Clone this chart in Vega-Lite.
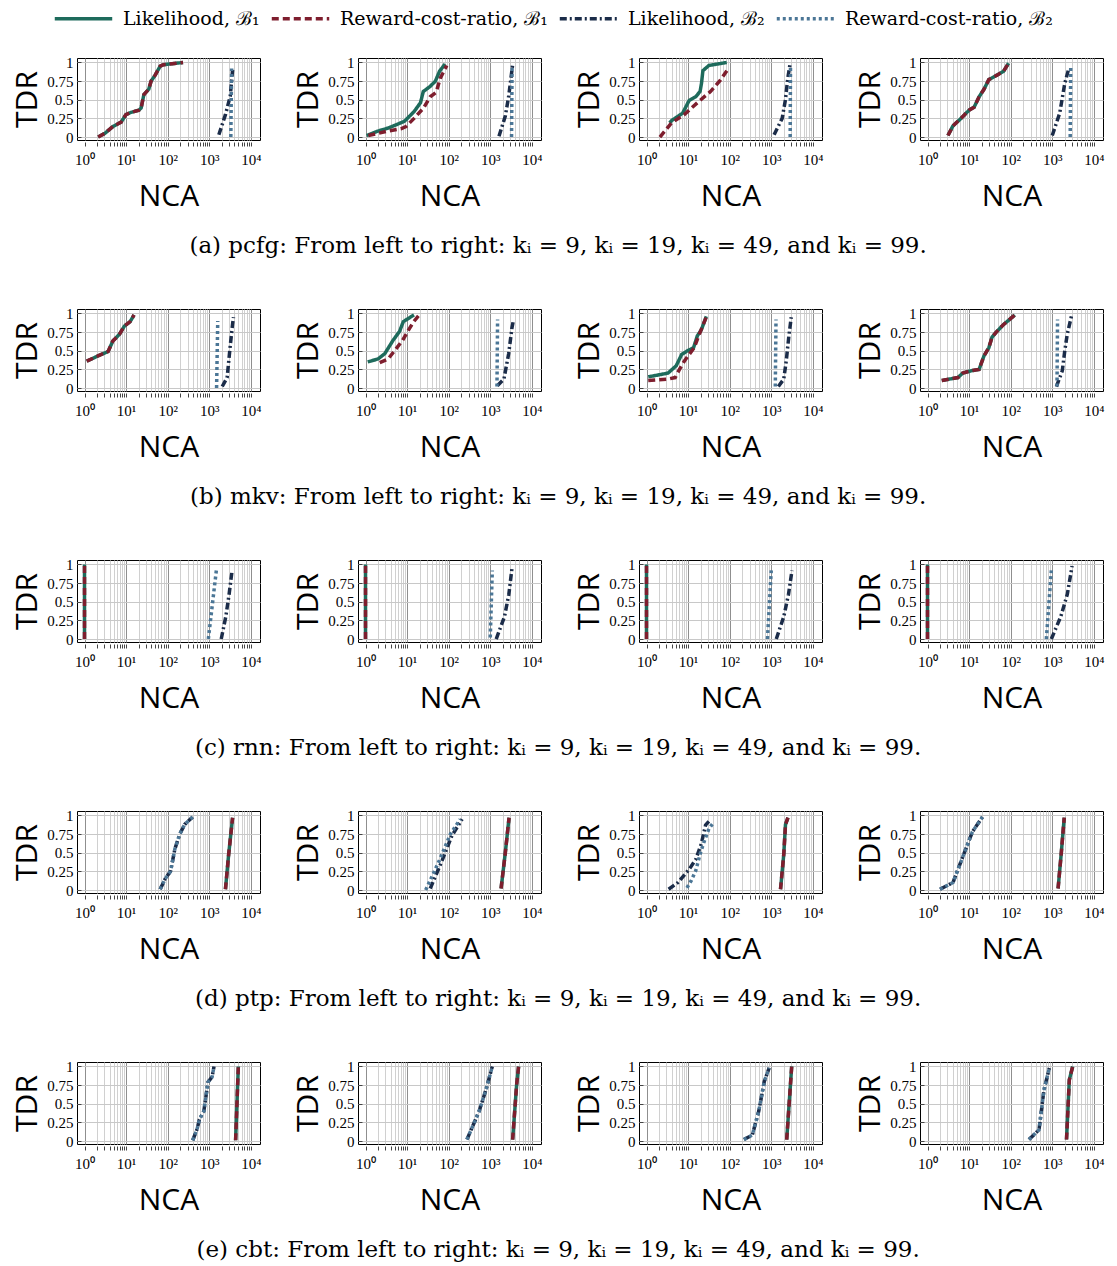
{
  "$schema": "https://vega.github.io/schema/vega-lite/v6.json",
  "padding": {"left": 12, "top": -12, "right": 4, "bottom": 2},
  "datasets": {
    "d": [
      {"d":"pcfg","k":9,"m":"L1","x":2.13,"y":0},{"d":"pcfg","k":9,"m":"L1","x":3.1,"y":0.05},{"d":"pcfg","k":9,"m":"L1","x":4.8,"y":0.14},{"d":"pcfg","k":9,"m":"L1","x":7.6,"y":0.2},{"d":"pcfg","k":9,"m":"L1","x":9.9,"y":0.3},{"d":"pcfg","k":9,"m":"L1","x":13,"y":0.33},{"d":"pcfg","k":9,"m":"L1","x":20.4,"y":0.36},{"d":"pcfg","k":9,"m":"L1","x":23,"y":0.39},{"d":"pcfg","k":9,"m":"L1","x":26.8,"y":0.57},{"d":"pcfg","k":9,"m":"L1","x":35,"y":0.64},{"d":"pcfg","k":9,"m":"L1","x":40,"y":0.75},{"d":"pcfg","k":9,"m":"L1","x":50,"y":0.83},{"d":"pcfg","k":9,"m":"L1","x":66,"y":0.95},{"d":"pcfg","k":9,"m":"L1","x":79,"y":0.97},{"d":"pcfg","k":9,"m":"L1","x":234,"y":1.0},
      {"d":"pcfg","k":9,"m":"R1","x":2.13,"y":0},{"d":"pcfg","k":9,"m":"R1","x":3.1,"y":0.05},{"d":"pcfg","k":9,"m":"R1","x":4.8,"y":0.14},{"d":"pcfg","k":9,"m":"R1","x":7.6,"y":0.2},{"d":"pcfg","k":9,"m":"R1","x":9.9,"y":0.3},{"d":"pcfg","k":9,"m":"R1","x":13,"y":0.33},{"d":"pcfg","k":9,"m":"R1","x":20.4,"y":0.36},{"d":"pcfg","k":9,"m":"R1","x":23,"y":0.39},{"d":"pcfg","k":9,"m":"R1","x":26.8,"y":0.57},{"d":"pcfg","k":9,"m":"R1","x":35,"y":0.64},{"d":"pcfg","k":9,"m":"R1","x":40,"y":0.75},{"d":"pcfg","k":9,"m":"R1","x":50,"y":0.83},{"d":"pcfg","k":9,"m":"R1","x":66,"y":0.95},{"d":"pcfg","k":9,"m":"R1","x":79,"y":0.97},{"d":"pcfg","k":9,"m":"R1","x":234,"y":1.0},
      {"d":"pcfg","k":9,"m":"L2","x":1700,"y":0.03},{"d":"pcfg","k":9,"m":"L2","x":2450,"y":0.3},{"d":"pcfg","k":9,"m":"L2","x":3200,"y":0.55},{"d":"pcfg","k":9,"m":"L2","x":3640,"y":0.9},
      {"d":"pcfg","k":9,"m":"R2","x":3300,"y":0},{"d":"pcfg","k":9,"m":"R2","x":3450,"y":0.92},

      {"d":"pcfg","k":19,"m":"L1","x":1.07,"y":0.02},{"d":"pcfg","k":19,"m":"L1","x":2.0,"y":0.08},{"d":"pcfg","k":19,"m":"L1","x":3.5,"y":0.12},{"d":"pcfg","k":19,"m":"L1","x":8.6,"y":0.21},{"d":"pcfg","k":19,"m":"L1","x":14.7,"y":0.34},{"d":"pcfg","k":19,"m":"L1","x":21,"y":0.46},{"d":"pcfg","k":19,"m":"L1","x":24.5,"y":0.61},{"d":"pcfg","k":19,"m":"L1","x":36,"y":0.68},{"d":"pcfg","k":19,"m":"L1","x":48,"y":0.75},{"d":"pcfg","k":19,"m":"L1","x":60,"y":0.88},{"d":"pcfg","k":19,"m":"L1","x":82,"y":0.98},
      {"d":"pcfg","k":19,"m":"R1","x":1.17,"y":0.02},{"d":"pcfg","k":19,"m":"R1","x":3.5,"y":0.08},{"d":"pcfg","k":19,"m":"R1","x":7.1,"y":0.11},{"d":"pcfg","k":19,"m":"R1","x":9.4,"y":0.14},{"d":"pcfg","k":19,"m":"R1","x":14.7,"y":0.25},{"d":"pcfg","k":19,"m":"R1","x":25,"y":0.39},{"d":"pcfg","k":19,"m":"R1","x":36,"y":0.54},{"d":"pcfg","k":19,"m":"R1","x":50,"y":0.6},{"d":"pcfg","k":19,"m":"R1","x":63,"y":0.79},{"d":"pcfg","k":19,"m":"R1","x":90,"y":0.96},
      {"d":"pcfg","k":19,"m":"L2","x":1620,"y":0.01},{"d":"pcfg","k":19,"m":"L2","x":2300,"y":0.28},{"d":"pcfg","k":19,"m":"L2","x":2780,"y":0.55},{"d":"pcfg","k":19,"m":"L2","x":3450,"y":0.97},
      {"d":"pcfg","k":19,"m":"R2","x":3250,"y":0},{"d":"pcfg","k":19,"m":"R2","x":3350,"y":0.95},

      {"d":"pcfg","k":49,"m":"L1","x":3.6,"y":0.19},{"d":"pcfg","k":49,"m":"L1","x":4.0,"y":0.22},{"d":"pcfg","k":49,"m":"L1","x":7.4,"y":0.32},{"d":"pcfg","k":49,"m":"L1","x":10.6,"y":0.49},{"d":"pcfg","k":49,"m":"L1","x":15.2,"y":0.54},{"d":"pcfg","k":49,"m":"L1","x":19.4,"y":0.61},{"d":"pcfg","k":49,"m":"L1","x":21,"y":0.72},{"d":"pcfg","k":49,"m":"L1","x":22.7,"y":0.89},{"d":"pcfg","k":49,"m":"L1","x":31.6,"y":0.96},{"d":"pcfg","k":49,"m":"L1","x":85,"y":1.0},
      {"d":"pcfg","k":49,"m":"R1","x":2.1,"y":0},{"d":"pcfg","k":49,"m":"R1","x":4.0,"y":0.19},{"d":"pcfg","k":49,"m":"R1","x":8.1,"y":0.3},{"d":"pcfg","k":49,"m":"R1","x":16.7,"y":0.46},{"d":"pcfg","k":49,"m":"R1","x":34.5,"y":0.61},{"d":"pcfg","k":49,"m":"R1","x":59,"y":0.76},{"d":"pcfg","k":49,"m":"R1","x":93,"y":0.92},
      {"d":"pcfg","k":49,"m":"L2","x":1170,"y":0.03},{"d":"pcfg","k":49,"m":"L2","x":1830,"y":0.25},{"d":"pcfg","k":49,"m":"L2","x":2190,"y":0.5},{"d":"pcfg","k":49,"m":"L2","x":2500,"y":0.79},{"d":"pcfg","k":49,"m":"L2","x":2870,"y":1.0},
      {"d":"pcfg","k":49,"m":"R2","x":2850,"y":0},{"d":"pcfg","k":49,"m":"R2","x":2900,"y":0.95},

      {"d":"pcfg","k":99,"m":"L1","x":3.1,"y":0.02},{"d":"pcfg","k":99,"m":"L1","x":4.1,"y":0.15},{"d":"pcfg","k":99,"m":"L1","x":6.4,"y":0.25},{"d":"pcfg","k":99,"m":"L1","x":10,"y":0.36},{"d":"pcfg","k":99,"m":"L1","x":13.2,"y":0.4},{"d":"pcfg","k":99,"m":"L1","x":17.4,"y":0.54},{"d":"pcfg","k":99,"m":"L1","x":22.8,"y":0.64},{"d":"pcfg","k":99,"m":"L1","x":29.8,"y":0.77},{"d":"pcfg","k":99,"m":"L1","x":47,"y":0.83},{"d":"pcfg","k":99,"m":"L1","x":67,"y":0.88},{"d":"pcfg","k":99,"m":"L1","x":89,"y":0.99},
      {"d":"pcfg","k":99,"m":"R1","x":3.1,"y":0.02},{"d":"pcfg","k":99,"m":"R1","x":4.1,"y":0.15},{"d":"pcfg","k":99,"m":"R1","x":6.4,"y":0.25},{"d":"pcfg","k":99,"m":"R1","x":10,"y":0.36},{"d":"pcfg","k":99,"m":"R1","x":13.2,"y":0.4},{"d":"pcfg","k":99,"m":"R1","x":17.4,"y":0.54},{"d":"pcfg","k":99,"m":"R1","x":22.8,"y":0.64},{"d":"pcfg","k":99,"m":"R1","x":29.8,"y":0.77},{"d":"pcfg","k":99,"m":"R1","x":47,"y":0.83},{"d":"pcfg","k":99,"m":"R1","x":67,"y":0.88},{"d":"pcfg","k":99,"m":"R1","x":89,"y":0.99},
      {"d":"pcfg","k":99,"m":"L2","x":1000,"y":0.02},{"d":"pcfg","k":99,"m":"L2","x":1510,"y":0.32},{"d":"pcfg","k":99,"m":"L2","x":2000,"y":0.72},{"d":"pcfg","k":99,"m":"L2","x":2500,"y":0.92},
      {"d":"pcfg","k":99,"m":"R2","x":2700,"y":0},{"d":"pcfg","k":99,"m":"R2","x":2780,"y":0.93},

      {"d":"mkv","k":9,"m":"L1","x":1.13,"y":0.36},{"d":"mkv","k":9,"m":"L1","x":2.1,"y":0.43},{"d":"mkv","k":9,"m":"L1","x":3.7,"y":0.49},{"d":"mkv","k":9,"m":"L1","x":4.8,"y":0.63},{"d":"mkv","k":9,"m":"L1","x":6.9,"y":0.72},{"d":"mkv","k":9,"m":"L1","x":9.1,"y":0.83},{"d":"mkv","k":9,"m":"L1","x":12.5,"y":0.89},{"d":"mkv","k":9,"m":"L1","x":15.5,"y":0.98},
      {"d":"mkv","k":9,"m":"R1","x":1.13,"y":0.36},{"d":"mkv","k":9,"m":"R1","x":2.1,"y":0.43},{"d":"mkv","k":9,"m":"R1","x":3.7,"y":0.49},{"d":"mkv","k":9,"m":"R1","x":4.8,"y":0.63},{"d":"mkv","k":9,"m":"R1","x":6.9,"y":0.72},{"d":"mkv","k":9,"m":"R1","x":9.1,"y":0.83},{"d":"mkv","k":9,"m":"R1","x":12.5,"y":0.89},{"d":"mkv","k":9,"m":"R1","x":15.5,"y":0.98},
      {"d":"mkv","k":9,"m":"L2","x":2050,"y":0.02},{"d":"mkv","k":9,"m":"L2","x":2690,"y":0.14},{"d":"mkv","k":9,"m":"L2","x":3200,"y":0.57},{"d":"mkv","k":9,"m":"L2","x":3640,"y":0.86},{"d":"mkv","k":9,"m":"L2","x":3830,"y":0.95},
      {"d":"mkv","k":9,"m":"R2","x":1500,"y":0},{"d":"mkv","k":9,"m":"R2","x":1600,"y":0.9},

      {"d":"mkv","k":19,"m":"L1","x":1.13,"y":0.35},{"d":"mkv","k":19,"m":"L1","x":2.0,"y":0.39},{"d":"mkv","k":19,"m":"L1","x":2.9,"y":0.46},{"d":"mkv","k":19,"m":"L1","x":4.6,"y":0.64},{"d":"mkv","k":19,"m":"L1","x":6.6,"y":0.76},{"d":"mkv","k":19,"m":"L1","x":8.1,"y":0.89},{"d":"mkv","k":19,"m":"L1","x":11.2,"y":0.94},{"d":"mkv","k":19,"m":"L1","x":14.7,"y":0.98},
      {"d":"mkv","k":19,"m":"R1","x":2.2,"y":0.34},{"d":"mkv","k":19,"m":"R1","x":3.5,"y":0.39},{"d":"mkv","k":19,"m":"R1","x":5.0,"y":0.5},{"d":"mkv","k":19,"m":"R1","x":7.8,"y":0.64},{"d":"mkv","k":19,"m":"R1","x":10.6,"y":0.77},{"d":"mkv","k":19,"m":"R1","x":14,"y":0.88},{"d":"mkv","k":19,"m":"R1","x":19.4,"y":0.98},
      {"d":"mkv","k":19,"m":"L2","x":1480,"y":0.03},{"d":"mkv","k":19,"m":"L2","x":2130,"y":0.12},{"d":"mkv","k":19,"m":"L2","x":2770,"y":0.46},{"d":"mkv","k":19,"m":"L2","x":3330,"y":0.81},{"d":"mkv","k":19,"m":"L2","x":3640,"y":0.92},
      {"d":"mkv","k":19,"m":"R2","x":1450,"y":0.02},{"d":"mkv","k":19,"m":"R2","x":1500,"y":0.92},

      {"d":"mkv","k":49,"m":"L1","x":1.1,"y":0.15},{"d":"mkv","k":49,"m":"L1","x":3.3,"y":0.2},{"d":"mkv","k":49,"m":"L1","x":5.2,"y":0.3},{"d":"mkv","k":49,"m":"L1","x":7.0,"y":0.45},{"d":"mkv","k":49,"m":"L1","x":9.7,"y":0.5},{"d":"mkv","k":49,"m":"L1","x":13.5,"y":0.54},{"d":"mkv","k":49,"m":"L1","x":16.7,"y":0.7},{"d":"mkv","k":49,"m":"L1","x":20.8,"y":0.78},{"d":"mkv","k":49,"m":"L1","x":27.4,"y":0.96},
      {"d":"mkv","k":49,"m":"R1","x":1.1,"y":0.1},{"d":"mkv","k":49,"m":"R1","x":3.3,"y":0.12},{"d":"mkv","k":49,"m":"R1","x":4.9,"y":0.14},{"d":"mkv","k":49,"m":"R1","x":6.2,"y":0.25},{"d":"mkv","k":49,"m":"R1","x":8.1,"y":0.36},{"d":"mkv","k":49,"m":"R1","x":10.6,"y":0.45},{"d":"mkv","k":49,"m":"R1","x":14,"y":0.54},{"d":"mkv","k":49,"m":"R1","x":17.4,"y":0.68},{"d":"mkv","k":49,"m":"R1","x":21.9,"y":0.82},{"d":"mkv","k":49,"m":"R1","x":28.8,"y":0.98},
      {"d":"mkv","k":49,"m":"L2","x":1480,"y":0.02},{"d":"mkv","k":49,"m":"L2","x":2000,"y":0.12},{"d":"mkv","k":49,"m":"L2","x":2300,"y":0.37},{"d":"mkv","k":49,"m":"L2","x":2630,"y":0.68},{"d":"mkv","k":49,"m":"L2","x":3020,"y":0.95},
      {"d":"mkv","k":49,"m":"R2","x":1250,"y":0.02},{"d":"mkv","k":49,"m":"R2","x":1300,"y":0.92},

      {"d":"mkv","k":99,"m":"L1","x":2.2,"y":0.1},{"d":"mkv","k":99,"m":"L1","x":3.4,"y":0.12},{"d":"mkv","k":99,"m":"L1","x":5.4,"y":0.14},{"d":"mkv","k":99,"m":"L1","x":7.0,"y":0.2},{"d":"mkv","k":99,"m":"L1","x":11,"y":0.23},{"d":"mkv","k":99,"m":"L1","x":17.4,"y":0.25},{"d":"mkv","k":99,"m":"L1","x":22.8,"y":0.43},{"d":"mkv","k":99,"m":"L1","x":29.8,"y":0.54},{"d":"mkv","k":99,"m":"L1","x":35.5,"y":0.68},{"d":"mkv","k":99,"m":"L1","x":45,"y":0.75},{"d":"mkv","k":99,"m":"L1","x":67,"y":0.85},{"d":"mkv","k":99,"m":"L1","x":126,"y":0.98},
      {"d":"mkv","k":99,"m":"R1","x":2.2,"y":0.1},{"d":"mkv","k":99,"m":"R1","x":3.4,"y":0.12},{"d":"mkv","k":99,"m":"R1","x":5.4,"y":0.14},{"d":"mkv","k":99,"m":"R1","x":7.0,"y":0.2},{"d":"mkv","k":99,"m":"R1","x":11,"y":0.23},{"d":"mkv","k":99,"m":"R1","x":17.4,"y":0.25},{"d":"mkv","k":99,"m":"R1","x":22.8,"y":0.43},{"d":"mkv","k":99,"m":"R1","x":29.8,"y":0.54},{"d":"mkv","k":99,"m":"R1","x":35.5,"y":0.68},{"d":"mkv","k":99,"m":"R1","x":45,"y":0.75},{"d":"mkv","k":99,"m":"R1","x":67,"y":0.85},{"d":"mkv","k":99,"m":"R1","x":126,"y":0.98},
      {"d":"mkv","k":99,"m":"L2","x":1260,"y":0.02},{"d":"mkv","k":99,"m":"L2","x":1740,"y":0.23},{"d":"mkv","k":99,"m":"L2","x":2000,"y":0.5},{"d":"mkv","k":99,"m":"L2","x":2290,"y":0.72},{"d":"mkv","k":99,"m":"L2","x":2880,"y":0.96},
      {"d":"mkv","k":99,"m":"R2","x":1300,"y":0.02},{"d":"mkv","k":99,"m":"R2","x":1340,"y":0.92},

      {"d":"rnn","k":9,"m":"L1","x":1,"y":0},{"d":"rnn","k":9,"m":"L1","x":1,"y":1},
      {"d":"rnn","k":9,"m":"R1","x":1,"y":0},{"d":"rnn","k":9,"m":"R1","x":1,"y":1},
      {"d":"rnn","k":9,"m":"L2","x":1940,"y":0},{"d":"rnn","k":9,"m":"L2","x":2500,"y":0.3},{"d":"rnn","k":9,"m":"L2","x":3000,"y":0.6},{"d":"rnn","k":9,"m":"L2","x":3540,"y":0.92},
      {"d":"rnn","k":9,"m":"R2","x":950,"y":0},{"d":"rnn","k":9,"m":"R2","x":1480,"y":0.92},
      {"d":"rnn","k":19,"m":"L1","x":1,"y":0},{"d":"rnn","k":19,"m":"L1","x":1,"y":1},
      {"d":"rnn","k":19,"m":"R1","x":1,"y":0},{"d":"rnn","k":19,"m":"R1","x":1,"y":1},
      {"d":"rnn","k":19,"m":"L2","x":1390,"y":0},{"d":"rnn","k":19,"m":"L2","x":2200,"y":0.3},{"d":"rnn","k":19,"m":"L2","x":2800,"y":0.6},{"d":"rnn","k":19,"m":"L2","x":3330,"y":0.95},
      {"d":"rnn","k":19,"m":"R2","x":1000,"y":0.02},{"d":"rnn","k":19,"m":"R2","x":1120,"y":0.92},
      {"d":"rnn","k":49,"m":"L1","x":1,"y":0},{"d":"rnn","k":49,"m":"L1","x":1,"y":1},
      {"d":"rnn","k":49,"m":"R1","x":1,"y":0},{"d":"rnn","k":49,"m":"R1","x":1,"y":1},
      {"d":"rnn","k":49,"m":"L2","x":1320,"y":0},{"d":"rnn","k":49,"m":"L2","x":2000,"y":0.3},{"d":"rnn","k":49,"m":"L2","x":2600,"y":0.6},{"d":"rnn","k":49,"m":"L2","x":3150,"y":0.92},
      {"d":"rnn","k":49,"m":"R2","x":810,"y":0},{"d":"rnn","k":49,"m":"R2","x":1000,"y":0.92},
      {"d":"rnn","k":99,"m":"L1","x":1,"y":0},{"d":"rnn","k":99,"m":"L1","x":1,"y":1},
      {"d":"rnn","k":99,"m":"R1","x":1,"y":0},{"d":"rnn","k":99,"m":"R1","x":1,"y":1},
      {"d":"rnn","k":99,"m":"L2","x":950,"y":0},{"d":"rnn","k":99,"m":"L2","x":1600,"y":0.3},{"d":"rnn","k":99,"m":"L2","x":2300,"y":0.6},{"d":"rnn","k":99,"m":"L2","x":3000,"y":0.98},
      {"d":"rnn","k":99,"m":"R2","x":720,"y":0},{"d":"rnn","k":99,"m":"R2","x":950,"y":0.92},

      {"d":"ptp","k":9,"m":"L1","x":2450,"y":0.01},{"d":"ptp","k":9,"m":"L1","x":2930,"y":0.48},{"d":"ptp","k":9,"m":"L1","x":3640,"y":0.97},
      {"d":"ptp","k":9,"m":"R1","x":2450,"y":0.01},{"d":"ptp","k":9,"m":"R1","x":2930,"y":0.48},{"d":"ptp","k":9,"m":"R1","x":3640,"y":0.97},
      {"d":"ptp","k":9,"m":"L2","x":66,"y":0.01},{"d":"ptp","k":9,"m":"L2","x":87,"y":0.15},{"d":"ptp","k":9,"m":"L2","x":117,"y":0.25},{"d":"ptp","k":9,"m":"L2","x":149,"y":0.55},{"d":"ptp","k":9,"m":"L2","x":195,"y":0.75},{"d":"ptp","k":9,"m":"L2","x":257,"y":0.88},{"d":"ptp","k":9,"m":"L2","x":400,"y":0.98},
      {"d":"ptp","k":9,"m":"R2","x":66,"y":0.01},{"d":"ptp","k":9,"m":"R2","x":87,"y":0.15},{"d":"ptp","k":9,"m":"R2","x":117,"y":0.25},{"d":"ptp","k":9,"m":"R2","x":149,"y":0.55},{"d":"ptp","k":9,"m":"R2","x":195,"y":0.75},{"d":"ptp","k":9,"m":"R2","x":257,"y":0.88},{"d":"ptp","k":9,"m":"R2","x":400,"y":0.98},
      {"d":"ptp","k":19,"m":"L1","x":1820,"y":0.02},{"d":"ptp","k":19,"m":"L1","x":2300,"y":0.5},{"d":"ptp","k":19,"m":"L1","x":2830,"y":0.97},
      {"d":"ptp","k":19,"m":"R1","x":1820,"y":0.02},{"d":"ptp","k":19,"m":"R1","x":2300,"y":0.5},{"d":"ptp","k":19,"m":"R1","x":2830,"y":0.97},
      {"d":"ptp","k":19,"m":"L2","x":36,"y":0.02},{"d":"ptp","k":19,"m":"L2","x":70,"y":0.4},{"d":"ptp","k":19,"m":"L2","x":120,"y":0.73},{"d":"ptp","k":19,"m":"L2","x":210,"y":0.95},
      {"d":"ptp","k":19,"m":"R2","x":28,"y":0},{"d":"ptp","k":19,"m":"R2","x":60,"y":0.4},{"d":"ptp","k":19,"m":"R2","x":110,"y":0.75},{"d":"ptp","k":19,"m":"R2","x":190,"y":0.95},
      {"d":"ptp","k":49,"m":"L1","x":1670,"y":0.01},{"d":"ptp","k":49,"m":"L1","x":2000,"y":0.48},{"d":"ptp","k":49,"m":"L1","x":2200,"y":0.88},{"d":"ptp","k":49,"m":"L1","x":2520,"y":0.97},
      {"d":"ptp","k":49,"m":"R1","x":1670,"y":0.01},{"d":"ptp","k":49,"m":"R1","x":2000,"y":0.48},{"d":"ptp","k":49,"m":"R1","x":2200,"y":0.88},{"d":"ptp","k":49,"m":"R1","x":2520,"y":0.97},
      {"d":"ptp","k":49,"m":"L2","x":3.4,"y":0.01},{"d":"ptp","k":49,"m":"L2","x":5.7,"y":0.1},{"d":"ptp","k":49,"m":"L2","x":7.8,"y":0.19},{"d":"ptp","k":49,"m":"L2","x":10.7,"y":0.28},{"d":"ptp","k":49,"m":"L2","x":15.3,"y":0.41},{"d":"ptp","k":49,"m":"L2","x":20.8,"y":0.62},{"d":"ptp","k":49,"m":"L2","x":26.3,"y":0.87},{"d":"ptp","k":49,"m":"L2","x":31.6,"y":0.92},
      {"d":"ptp","k":49,"m":"R2","x":9.4,"y":0.03},{"d":"ptp","k":49,"m":"R2","x":12,"y":0.13},{"d":"ptp","k":49,"m":"R2","x":15.3,"y":0.26},{"d":"ptp","k":49,"m":"R2","x":19.4,"y":0.48},{"d":"ptp","k":49,"m":"R2","x":24,"y":0.64},{"d":"ptp","k":49,"m":"R2","x":31.6,"y":0.82},{"d":"ptp","k":49,"m":"R2","x":41.4,"y":0.91},
      {"d":"ptp","k":99,"m":"L1","x":1380,"y":0.02},{"d":"ptp","k":99,"m":"L1","x":1650,"y":0.5},{"d":"ptp","k":99,"m":"L1","x":1940,"y":0.97},
      {"d":"ptp","k":99,"m":"R1","x":1380,"y":0.02},{"d":"ptp","k":99,"m":"R1","x":1650,"y":0.5},{"d":"ptp","k":99,"m":"R1","x":1940,"y":0.97},
      {"d":"ptp","k":99,"m":"L2","x":2.0,"y":0.01},{"d":"ptp","k":99,"m":"L2","x":4.1,"y":0.1},{"d":"ptp","k":99,"m":"L2","x":7.1,"y":0.45},{"d":"ptp","k":99,"m":"L2","x":12,"y":0.78},{"d":"ptp","k":99,"m":"L2","x":21,"y":0.98},
      {"d":"ptp","k":99,"m":"R2","x":2.0,"y":0.01},{"d":"ptp","k":99,"m":"R2","x":4.1,"y":0.1},{"d":"ptp","k":99,"m":"R2","x":7.1,"y":0.45},{"d":"ptp","k":99,"m":"R2","x":12,"y":0.78},{"d":"ptp","k":99,"m":"R2","x":21,"y":0.98},

      {"d":"cbt","k":9,"m":"L1","x":4300,"y":0.01},{"d":"cbt","k":9,"m":"L1","x":5000,"y":1.0},
      {"d":"cbt","k":9,"m":"R1","x":4300,"y":0.01},{"d":"cbt","k":9,"m":"R1","x":5000,"y":1.0},
      {"d":"cbt","k":9,"m":"L2","x":400,"y":0.01},{"d":"cbt","k":9,"m":"L2","x":510,"y":0.16},{"d":"cbt","k":9,"m":"L2","x":580,"y":0.29},{"d":"cbt","k":9,"m":"L2","x":740,"y":0.4},{"d":"cbt","k":9,"m":"L2","x":800,"y":0.53},{"d":"cbt","k":9,"m":"L2","x":930,"y":0.79},{"d":"cbt","k":9,"m":"L2","x":1170,"y":0.86},{"d":"cbt","k":9,"m":"L2","x":1300,"y":1.0},
      {"d":"cbt","k":9,"m":"R2","x":400,"y":0.01},{"d":"cbt","k":9,"m":"R2","x":510,"y":0.16},{"d":"cbt","k":9,"m":"R2","x":580,"y":0.29},{"d":"cbt","k":9,"m":"R2","x":740,"y":0.4},{"d":"cbt","k":9,"m":"R2","x":800,"y":0.53},{"d":"cbt","k":9,"m":"R2","x":930,"y":0.79},{"d":"cbt","k":9,"m":"R2","x":1170,"y":0.86},{"d":"cbt","k":9,"m":"R2","x":1300,"y":1.0},
      {"d":"cbt","k":19,"m":"L1","x":3450,"y":0.02},{"d":"cbt","k":19,"m":"L1","x":4300,"y":0.75},{"d":"cbt","k":19,"m":"L1","x":4800,"y":1.0},
      {"d":"cbt","k":19,"m":"R1","x":3450,"y":0.02},{"d":"cbt","k":19,"m":"R1","x":4300,"y":0.75},{"d":"cbt","k":19,"m":"R1","x":4800,"y":1.0},
      {"d":"cbt","k":19,"m":"L2","x":275,"y":0.02},{"d":"cbt","k":19,"m":"L2","x":540,"y":0.4},{"d":"cbt","k":19,"m":"L2","x":800,"y":0.7},{"d":"cbt","k":19,"m":"L2","x":1120,"y":1.0},
      {"d":"cbt","k":19,"m":"R2","x":275,"y":0.02},{"d":"cbt","k":19,"m":"R2","x":540,"y":0.4},{"d":"cbt","k":19,"m":"R2","x":800,"y":0.7},{"d":"cbt","k":19,"m":"R2","x":1120,"y":1.0},
      {"d":"cbt","k":49,"m":"L1","x":2350,"y":0.02},{"d":"cbt","k":49,"m":"L1","x":3100,"y":1.0},
      {"d":"cbt","k":49,"m":"R1","x":2350,"y":0.02},{"d":"cbt","k":49,"m":"R1","x":3100,"y":1.0},
      {"d":"cbt","k":49,"m":"L2","x":220,"y":0.02},{"d":"cbt","k":49,"m":"L2","x":350,"y":0.08},{"d":"cbt","k":49,"m":"L2","x":500,"y":0.4},{"d":"cbt","k":49,"m":"L2","x":680,"y":0.8},{"d":"cbt","k":49,"m":"L2","x":890,"y":0.98},
      {"d":"cbt","k":49,"m":"R2","x":220,"y":0.02},{"d":"cbt","k":49,"m":"R2","x":350,"y":0.08},{"d":"cbt","k":49,"m":"R2","x":500,"y":0.4},{"d":"cbt","k":49,"m":"R2","x":680,"y":0.8},{"d":"cbt","k":49,"m":"R2","x":890,"y":0.98},
      {"d":"cbt","k":99,"m":"L1","x":2200,"y":0.02},{"d":"cbt","k":99,"m":"L1","x":2570,"y":0.82},{"d":"cbt","k":99,"m":"L1","x":3100,"y":1.0},
      {"d":"cbt","k":99,"m":"R1","x":2200,"y":0.02},{"d":"cbt","k":99,"m":"R1","x":2570,"y":0.82},{"d":"cbt","k":99,"m":"R1","x":3100,"y":1.0},
      {"d":"cbt","k":99,"m":"L2","x":275,"y":0.02},{"d":"cbt","k":99,"m":"L2","x":480,"y":0.15},{"d":"cbt","k":99,"m":"L2","x":630,"y":0.68},{"d":"cbt","k":99,"m":"L2","x":850,"y":0.98},
      {"d":"cbt","k":99,"m":"R2","x":275,"y":0.02},{"d":"cbt","k":99,"m":"R2","x":480,"y":0.15},{"d":"cbt","k":99,"m":"R2","x":630,"y":0.68},{"d":"cbt","k":99,"m":"R2","x":850,"y":0.98}
    ]
  },
  "data": {"name": "d"},
  "config": {
    "font": "DejaVu Serif",
    "view": {"stroke": "black", "strokeWidth": 1},
    "axis": {"labelFont": "Liberation Serif", "labelFontSize": 15, "labelColor": "black", "titleFont": "Open Sans", "titleFontSize": 30, "titleFontWeight": "normal", "titleColor": "black", "domain": false, "tickColor": "#444444"},
    "legend": {"orient": "none", "legendX": -24, "legendY": -70, "direction": "horizontal", "symbolType": "stroke", "symbolSize": 3300, "symbolStrokeWidth": 3.5, "labelFont": "DejaVu Serif", "labelFontSize": 19, "labelColor": "black", "labelLimit": 400, "labelOffset": 9, "columnPadding": 4},
    "title": {"font": "DejaVu Serif", "fontSize": 23, "fontWeight": "normal", "color": "black", "anchor": "middle", "orient": "bottom", "offset": 24}
  },
  "spacing": 47,
  "vconcat": [
    {
      "transform": [{"filter": "datum.d === 'pcfg'"}],
      "title": {"text": "(a) pcfg: From left to right: kᵢ = 9, kᵢ = 19, kᵢ = 49, and kᵢ = 99.", "orient": "bottom"},
      "facet": {"column": {"field": "k", "type": "ordinal", "header": {"title": null, "labels": false}}},
      "spacing": 32,
      "resolve": {"axis": {"y": "independent"}},
      "spec": {
        "width": 183, "height": 82,
        "encoding": {
          "x": {"field": "x", "type": "quantitative", "title": "NCA", "scale": {"type": "log", "domain": [0.66, 16600], "nice": false},
                "axis": {"values": [1,2,3,4,5,6,7,8,9,10,20,30,40,50,60,70,80,90,100,200,300,400,500,600,700,800,900,1000,2000,3000,4000,5000,6000,7000,8000,9000,10000],
                         "labelExpr": "datum.value === 1 ? '10⁰' : datum.value === 10 ? '10¹' : datum.value === 100 ? '10²' : datum.value === 1000 ? '10³' : datum.value === 10000 ? '10⁴' : ''",
                         "labelOverlap": false, "labelFlush": false, "tickSize": -4, "labelPadding": 10, "titlePadding": 14,
                         "gridColor": {"condition": {"test": "datum.value === 1 || datum.value === 10 || datum.value === 100 || datum.value === 1000 || datum.value === 10000", "value": "#8f8f8f"}, "value": "#d0d0d0"}}},
          "y": {"field": "y", "type": "quantitative", "title": "TDR", "scale": {"domain": [-0.04, 1.06], "nice": false},
                "axis": {"values": [0, 0.25, 0.5, 0.75, 1], "format": ".2~f", "tickSize": -4, "labelPadding": 8, "titlePadding": 4, "gridColor": "#c8c8c8"}},
          "color": {"field": "m", "type": "nominal", "scale": {"domain": ["L1","R1","L2","R2"], "range": ["#1e6b5c","#7e1e2e","#1b2c49","#4b7696"]},
                    "legend": {"title": null, "labelExpr": "{'L1':'Likelihood, ℬ₁','R1':'Reward-cost-ratio, ℬ₁','L2':'Likelihood, ℬ₂','R2':'Reward-cost-ratio, ℬ₂'}[datum.label]"}},
          "strokeDash": {"field": "m", "type": "nominal", "scale": {"domain": ["L1","R1","L2","R2"], "range": [[1,0],[7,4],[7,3,2,3],[3,3]]},
                    "legend": {"title": null, "labelExpr": "{'L1':'Likelihood, ℬ₁','R1':'Reward-cost-ratio, ℬ₁','L2':'Likelihood, ℬ₂','R2':'Reward-cost-ratio, ℬ₂'}[datum.label]"}},
          "order": {"field": "y", "type": "quantitative"}
        },
        "layer": [
          {"transform": [{"filter": "datum.m === 'L1'"}], "mark": {"type": "line", "strokeWidth": 3.5}},
          {"transform": [{"filter": "datum.m === 'R1'"}], "mark": {"type": "line", "strokeWidth": 3.5}},
          {"transform": [{"filter": "datum.m === 'L2'"}], "mark": {"type": "line", "strokeWidth": 3.5}},
          {"transform": [{"filter": "datum.m === 'R2'"}], "mark": {"type": "line", "strokeWidth": 3.5}}
        ]
      }
    },
    {
      "transform": [{"filter": "datum.d === 'mkv'"}],
      "title": {"text": "(b) mkv: From left to right: kᵢ = 9, kᵢ = 19, kᵢ = 49, and kᵢ = 99.", "orient": "bottom"},
      "facet": {"column": {"field": "k", "type": "ordinal", "header": {"title": null, "labels": false}}},
      "spacing": 32,
      "resolve": {"axis": {"y": "independent"}},
      "spec": {
        "width": 183, "height": 82,
        "encoding": {
          "x": {"field": "x", "type": "quantitative", "title": "NCA", "scale": {"type": "log", "domain": [0.66, 16600], "nice": false},
                "axis": {"values": [1,2,3,4,5,6,7,8,9,10,20,30,40,50,60,70,80,90,100,200,300,400,500,600,700,800,900,1000,2000,3000,4000,5000,6000,7000,8000,9000,10000],
                         "labelExpr": "datum.value === 1 ? '10⁰' : datum.value === 10 ? '10¹' : datum.value === 100 ? '10²' : datum.value === 1000 ? '10³' : datum.value === 10000 ? '10⁴' : ''",
                         "labelOverlap": false, "labelFlush": false, "tickSize": -4, "labelPadding": 10, "titlePadding": 14,
                         "gridColor": {"condition": {"test": "datum.value === 1 || datum.value === 10 || datum.value === 100 || datum.value === 1000 || datum.value === 10000", "value": "#8f8f8f"}, "value": "#d0d0d0"}}},
          "y": {"field": "y", "type": "quantitative", "title": "TDR", "scale": {"domain": [-0.04, 1.06], "nice": false},
                "axis": {"values": [0, 0.25, 0.5, 0.75, 1], "format": ".2~f", "tickSize": -4, "labelPadding": 8, "titlePadding": 4, "gridColor": "#c8c8c8"}},
          "color": {"field": "m", "type": "nominal", "scale": {"domain": ["L1","R1","L2","R2"], "range": ["#1e6b5c","#7e1e2e","#1b2c49","#4b7696"]},
                    "legend": {"title": null, "labelExpr": "{'L1':'Likelihood, ℬ₁','R1':'Reward-cost-ratio, ℬ₁','L2':'Likelihood, ℬ₂','R2':'Reward-cost-ratio, ℬ₂'}[datum.label]"}},
          "strokeDash": {"field": "m", "type": "nominal", "scale": {"domain": ["L1","R1","L2","R2"], "range": [[1,0],[7,4],[7,3,2,3],[3,3]]},
                    "legend": {"title": null, "labelExpr": "{'L1':'Likelihood, ℬ₁','R1':'Reward-cost-ratio, ℬ₁','L2':'Likelihood, ℬ₂','R2':'Reward-cost-ratio, ℬ₂'}[datum.label]"}},
          "order": {"field": "y", "type": "quantitative"}
        },
        "layer": [
          {"transform": [{"filter": "datum.m === 'L1'"}], "mark": {"type": "line", "strokeWidth": 3.5}},
          {"transform": [{"filter": "datum.m === 'R1'"}], "mark": {"type": "line", "strokeWidth": 3.5}},
          {"transform": [{"filter": "datum.m === 'L2'"}], "mark": {"type": "line", "strokeWidth": 3.5}},
          {"transform": [{"filter": "datum.m === 'R2'"}], "mark": {"type": "line", "strokeWidth": 3.5}}
        ]
      }
    },
    {
      "transform": [{"filter": "datum.d === 'rnn'"}],
      "title": {"text": "(c) rnn: From left to right: kᵢ = 9, kᵢ = 19, kᵢ = 49, and kᵢ = 99.", "orient": "bottom"},
      "facet": {"column": {"field": "k", "type": "ordinal", "header": {"title": null, "labels": false}}},
      "spacing": 32,
      "resolve": {"axis": {"y": "independent"}},
      "spec": {
        "width": 183, "height": 82,
        "encoding": {
          "x": {"field": "x", "type": "quantitative", "title": "NCA", "scale": {"type": "log", "domain": [0.66, 16600], "nice": false},
                "axis": {"values": [1,2,3,4,5,6,7,8,9,10,20,30,40,50,60,70,80,90,100,200,300,400,500,600,700,800,900,1000,2000,3000,4000,5000,6000,7000,8000,9000,10000],
                         "labelExpr": "datum.value === 1 ? '10⁰' : datum.value === 10 ? '10¹' : datum.value === 100 ? '10²' : datum.value === 1000 ? '10³' : datum.value === 10000 ? '10⁴' : ''",
                         "labelOverlap": false, "labelFlush": false, "tickSize": -4, "labelPadding": 10, "titlePadding": 14,
                         "gridColor": {"condition": {"test": "datum.value === 1 || datum.value === 10 || datum.value === 100 || datum.value === 1000 || datum.value === 10000", "value": "#8f8f8f"}, "value": "#d0d0d0"}}},
          "y": {"field": "y", "type": "quantitative", "title": "TDR", "scale": {"domain": [-0.04, 1.06], "nice": false},
                "axis": {"values": [0, 0.25, 0.5, 0.75, 1], "format": ".2~f", "tickSize": -4, "labelPadding": 8, "titlePadding": 4, "gridColor": "#c8c8c8"}},
          "color": {"field": "m", "type": "nominal", "scale": {"domain": ["L1","R1","L2","R2"], "range": ["#1e6b5c","#7e1e2e","#1b2c49","#4b7696"]},
                    "legend": {"title": null, "labelExpr": "{'L1':'Likelihood, ℬ₁','R1':'Reward-cost-ratio, ℬ₁','L2':'Likelihood, ℬ₂','R2':'Reward-cost-ratio, ℬ₂'}[datum.label]"}},
          "strokeDash": {"field": "m", "type": "nominal", "scale": {"domain": ["L1","R1","L2","R2"], "range": [[1,0],[7,4],[7,3,2,3],[3,3]]},
                    "legend": {"title": null, "labelExpr": "{'L1':'Likelihood, ℬ₁','R1':'Reward-cost-ratio, ℬ₁','L2':'Likelihood, ℬ₂','R2':'Reward-cost-ratio, ℬ₂'}[datum.label]"}},
          "order": {"field": "y", "type": "quantitative"}
        },
        "layer": [
          {"transform": [{"filter": "datum.m === 'L1'"}], "mark": {"type": "line", "strokeWidth": 3.5}},
          {"transform": [{"filter": "datum.m === 'R1'"}], "mark": {"type": "line", "strokeWidth": 3.5}},
          {"transform": [{"filter": "datum.m === 'L2'"}], "mark": {"type": "line", "strokeWidth": 3.5}},
          {"transform": [{"filter": "datum.m === 'R2'"}], "mark": {"type": "line", "strokeWidth": 3.5}}
        ]
      }
    },
    {
      "transform": [{"filter": "datum.d === 'ptp'"}],
      "title": {"text": "(d) ptp: From left to right: kᵢ = 9, kᵢ = 19, kᵢ = 49, and kᵢ = 99.", "orient": "bottom"},
      "facet": {"column": {"field": "k", "type": "ordinal", "header": {"title": null, "labels": false}}},
      "spacing": 32,
      "resolve": {"axis": {"y": "independent"}},
      "spec": {
        "width": 183, "height": 82,
        "encoding": {
          "x": {"field": "x", "type": "quantitative", "title": "NCA", "scale": {"type": "log", "domain": [0.66, 16600], "nice": false},
                "axis": {"values": [1,2,3,4,5,6,7,8,9,10,20,30,40,50,60,70,80,90,100,200,300,400,500,600,700,800,900,1000,2000,3000,4000,5000,6000,7000,8000,9000,10000],
                         "labelExpr": "datum.value === 1 ? '10⁰' : datum.value === 10 ? '10¹' : datum.value === 100 ? '10²' : datum.value === 1000 ? '10³' : datum.value === 10000 ? '10⁴' : ''",
                         "labelOverlap": false, "labelFlush": false, "tickSize": -4, "labelPadding": 10, "titlePadding": 14,
                         "gridColor": {"condition": {"test": "datum.value === 1 || datum.value === 10 || datum.value === 100 || datum.value === 1000 || datum.value === 10000", "value": "#8f8f8f"}, "value": "#d0d0d0"}}},
          "y": {"field": "y", "type": "quantitative", "title": "TDR", "scale": {"domain": [-0.04, 1.06], "nice": false},
                "axis": {"values": [0, 0.25, 0.5, 0.75, 1], "format": ".2~f", "tickSize": -4, "labelPadding": 8, "titlePadding": 4, "gridColor": "#c8c8c8"}},
          "color": {"field": "m", "type": "nominal", "scale": {"domain": ["L1","R1","L2","R2"], "range": ["#1e6b5c","#7e1e2e","#1b2c49","#4b7696"]},
                    "legend": {"title": null, "labelExpr": "{'L1':'Likelihood, ℬ₁','R1':'Reward-cost-ratio, ℬ₁','L2':'Likelihood, ℬ₂','R2':'Reward-cost-ratio, ℬ₂'}[datum.label]"}},
          "strokeDash": {"field": "m", "type": "nominal", "scale": {"domain": ["L1","R1","L2","R2"], "range": [[1,0],[7,4],[7,3,2,3],[3,3]]},
                    "legend": {"title": null, "labelExpr": "{'L1':'Likelihood, ℬ₁','R1':'Reward-cost-ratio, ℬ₁','L2':'Likelihood, ℬ₂','R2':'Reward-cost-ratio, ℬ₂'}[datum.label]"}},
          "order": {"field": "y", "type": "quantitative"}
        },
        "layer": [
          {"transform": [{"filter": "datum.m === 'L1'"}], "mark": {"type": "line", "strokeWidth": 3.5}},
          {"transform": [{"filter": "datum.m === 'R1'"}], "mark": {"type": "line", "strokeWidth": 3.5}},
          {"transform": [{"filter": "datum.m === 'L2'"}], "mark": {"type": "line", "strokeWidth": 3.5}},
          {"transform": [{"filter": "datum.m === 'R2'"}], "mark": {"type": "line", "strokeWidth": 3.5}}
        ]
      }
    },
    {
      "transform": [{"filter": "datum.d === 'cbt'"}],
      "title": {"text": "(e) cbt: From left to right: kᵢ = 9, kᵢ = 19, kᵢ = 49, and kᵢ = 99.", "orient": "bottom"},
      "facet": {"column": {"field": "k", "type": "ordinal", "header": {"title": null, "labels": false}}},
      "spacing": 32,
      "resolve": {"axis": {"y": "independent"}},
      "spec": {
        "width": 183, "height": 82,
        "encoding": {
          "x": {"field": "x", "type": "quantitative", "title": "NCA", "scale": {"type": "log", "domain": [0.66, 16600], "nice": false},
                "axis": {"values": [1,2,3,4,5,6,7,8,9,10,20,30,40,50,60,70,80,90,100,200,300,400,500,600,700,800,900,1000,2000,3000,4000,5000,6000,7000,8000,9000,10000],
                         "labelExpr": "datum.value === 1 ? '10⁰' : datum.value === 10 ? '10¹' : datum.value === 100 ? '10²' : datum.value === 1000 ? '10³' : datum.value === 10000 ? '10⁴' : ''",
                         "labelOverlap": false, "labelFlush": false, "tickSize": -4, "labelPadding": 10, "titlePadding": 14,
                         "gridColor": {"condition": {"test": "datum.value === 1 || datum.value === 10 || datum.value === 100 || datum.value === 1000 || datum.value === 10000", "value": "#8f8f8f"}, "value": "#d0d0d0"}}},
          "y": {"field": "y", "type": "quantitative", "title": "TDR", "scale": {"domain": [-0.04, 1.06], "nice": false},
                "axis": {"values": [0, 0.25, 0.5, 0.75, 1], "format": ".2~f", "tickSize": -4, "labelPadding": 8, "titlePadding": 4, "gridColor": "#c8c8c8"}},
          "color": {"field": "m", "type": "nominal", "scale": {"domain": ["L1","R1","L2","R2"], "range": ["#1e6b5c","#7e1e2e","#1b2c49","#4b7696"]},
                    "legend": {"title": null, "labelExpr": "{'L1':'Likelihood, ℬ₁','R1':'Reward-cost-ratio, ℬ₁','L2':'Likelihood, ℬ₂','R2':'Reward-cost-ratio, ℬ₂'}[datum.label]"}},
          "strokeDash": {"field": "m", "type": "nominal", "scale": {"domain": ["L1","R1","L2","R2"], "range": [[1,0],[7,4],[7,3,2,3],[3,3]]},
                    "legend": {"title": null, "labelExpr": "{'L1':'Likelihood, ℬ₁','R1':'Reward-cost-ratio, ℬ₁','L2':'Likelihood, ℬ₂','R2':'Reward-cost-ratio, ℬ₂'}[datum.label]"}},
          "order": {"field": "y", "type": "quantitative"}
        },
        "layer": [
          {"transform": [{"filter": "datum.m === 'L1'"}], "mark": {"type": "line", "strokeWidth": 3.5}},
          {"transform": [{"filter": "datum.m === 'R1'"}], "mark": {"type": "line", "strokeWidth": 3.5}},
          {"transform": [{"filter": "datum.m === 'L2'"}], "mark": {"type": "line", "strokeWidth": 3.5}},
          {"transform": [{"filter": "datum.m === 'R2'"}], "mark": {"type": "line", "strokeWidth": 3.5}}
        ]
      }
    }
  ]
}
